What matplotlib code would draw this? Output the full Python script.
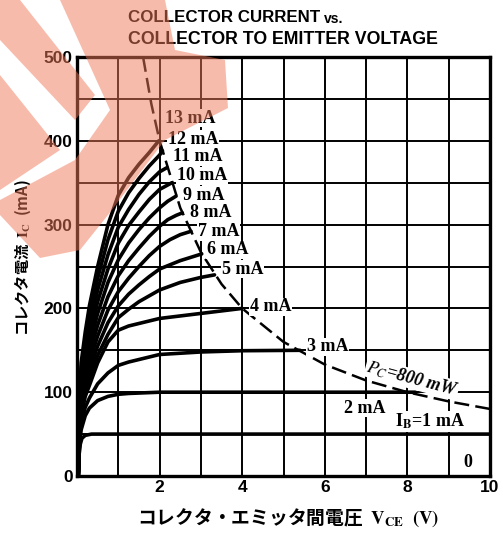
import matplotlib
matplotlib.use('Agg')
import matplotlib.pyplot as plt
from matplotlib.patches import Polygon

plt.rcParams['mathtext.fontset'] = 'stix'

# --- data (V in volts, I in mA) ---
vce_grid = [0.03, 0.06, 0.1, 0.2, 0.3, 0.5, 0.75, 1.0, 1.25, 1.5, 1.75, 2.0]

ib1_v = [0.03, 0.05, 0.08, 0.12, 0.2, 0.35, 10.0]
ib1_i = [0, 25, 38, 45, 48.5, 50, 50]
ib2_v = vce_grid + [8.2]
ib2_i = [0, 38, 55, 72, 81, 90, 95, 97.5, 98.5, 99, 99.5, 100, 100]
ib3_v = vce_grid + [3.0, 4.0, 5.4]
ib3_i = [0, 42, 64, 82, 93, 110, 123, 132, 136, 139, 142, 145, 148, 149.5, 150]
ib4_v = vce_grid + [3.0, 4.0]
ib4_i = [0, 45, 72, 95, 108, 135, 160, 174, 179, 182, 185, 188, 194, 200]
ib5_v = vce_grid + [2.5, 3.0, 3.33]
ib5_i = [0, 48, 79, 102, 116, 144, 169, 189, 199, 208, 215, 222, 231, 237, 240]
ib6_v = vce_grid + [2.5, 3.02]
ib6_i = [0, 52, 86, 110, 126, 155, 183, 203, 217, 228, 238, 247, 257, 265]
ib7_v = vce_grid + [2.25, 2.5, 2.76]
ib7_i = [0, 56, 93, 118, 136, 167, 198, 220, 236, 250, 263, 274, 282, 288, 292]
ib8_v = vce_grid + [2.2, 2.4, 2.55]
ib8_i = [0, 60, 100, 127, 146, 180, 214, 239, 257, 272, 286, 298, 306, 311, 314]
ib9_v = vce_grid + [2.2, 2.4]
ib9_i = [0, 64, 107, 136, 156, 194, 231, 258, 278, 294, 308, 320, 328, 334]
ib10_v = vce_grid + [2.3]
ib10_i = [0, 68, 114, 145, 167, 208, 247, 278, 299, 315, 330, 342, 350]
ib11_v = vce_grid + [2.18]
ib11_i = [0, 72, 121, 154, 178, 222, 264, 297, 318, 336, 351, 363, 368]
ib12_v = vce_grid + [2.07]
ib12_i = [0, 76, 128, 163, 190, 236, 282, 316, 338, 355, 370, 383, 388]
ib13_v = vce_grid[:-1] + [1.98]
ib13_i = [0, 80, 135, 172, 203, 250, 300, 335, 356, 372, 386, 400]

# Pc = 800 mW limit (dashed)
pc_v = [1.6, 1.8, 2.0, 2.5, 3.0, 3.5, 4.0, 5.0, 6.0, 7.0, 8.0, 9.0, 10.0]
pc_i = [500, 444, 400, 320, 267, 229, 200, 160, 133, 114, 100, 89, 80]

# curve labels: text, left edge V, centre I
label_text = ['13 mA', '12 mA', '11 mA', '10 mA', '9 mA', '8 mA', '7 mA',
              '6 mA', '5 mA', '4 mA', '3 mA', '2 mA']
label_v = [2.13, 2.2, 2.32, 2.42, 2.57, 2.74, 2.93, 3.15, 3.51, 4.19, 5.57, 6.47]
label_i = [427, 402, 381, 358, 335, 314, 292, 270, 247, 202, 154, 81]

curves = [(ib1_v, ib1_i), (ib2_v, ib2_i), (ib3_v, ib3_i), (ib4_v, ib4_i),
          (ib5_v, ib5_i), (ib6_v, ib6_i), (ib7_v, ib7_i), (ib8_v, ib8_i),
          (ib9_v, ib9_i), (ib10_v, ib10_i), (ib11_v, ib11_i),
          (ib12_v, ib12_i), (ib13_v, ib13_i)]

W, H = 503, 533
fig = plt.figure(figsize=(W / 100, H / 100), dpi=100)
ax = fig.add_axes([77 / W, 1 - 476 / H, (490 - 77) / W, (476 - 57) / H])

ax.set_xlim(0, 10)
ax.set_ylim(0, 500)
ax.set_xticks(range(0, 11))
ax.set_yticks(range(0, 501, 50))
ax.grid(True, color='black', linewidth=1.4)
ax.set_axisbelow(True)
ax.tick_params(length=0, pad=3)
ax.set_xticklabels(['', '', '2', '', '4', '', '6', '', '8', '', '10'])
ax.set_yticklabels(['0', '', '100', '', '200', '', '300', '', '400', '', '500'])
for t in ax.get_xticklabels() + ax.get_yticklabels():
    t.set_fontfamily('Liberation Sans')
    t.set_fontweight('bold')
    t.set_fontsize(12.5)
for s in ax.spines.values():
    s.set_linewidth(2.4)

for v, i in curves:
    ax.plot(v, i, color='black', linewidth=2.6, solid_joinstyle='round',
            solid_capstyle='round', zorder=3)
ax.plot(pc_v, pc_i, color='black', linewidth=1.8, dashes=(6, 2.5), zorder=3)

lab_style = dict(fontfamily='Liberation Serif', fontweight='bold', fontsize=13,
                 va='center', ha='left', zorder=5,
                 bbox=dict(facecolor='white', edgecolor='none', pad=0.5))
for txt, v, i in zip(label_text, label_v, label_i):
    ax.text(v, i, txt, **lab_style)
ax.text(7.7, 65, r'$\mathbf{I_B}$=1 mA', **lab_style)
ax.text(9.47, 16, '0', fontfamily='Liberation Serif', fontweight='bold',
        fontsize=13, ha='center', va='center', zorder=5)
ax.text(8.11, 116, r'$P_C$=800 mW', fontfamily='Liberation Serif', style='italic',
        fontweight='bold', fontsize=13, ha='center', va='center',
        rotation=-15, rotation_mode='anchor', zorder=5,
        bbox=dict(facecolor='white', edgecolor='none', pad=0.3))

# titles and axis labels
fig.text(128 / W, 1 - 18 / H, 'COLLECTOR CURRENT', fontfamily='Liberation Sans',
         fontweight='bold', fontsize=12.2, va='center', ha='left')
fig.text(324 / W, 1 - 19 / H, 'vs.', fontfamily='Liberation Sans',
         fontweight='bold', fontsize=10, va='center', ha='left')
fig.text(128 / W, 1 - 40 / H, 'COLLECTOR TO EMITTER VOLTAGE', fontfamily='Liberation Sans',
         fontweight='bold', fontsize=12.8, va='center', ha='left')
jp = ['Noto Sans CJK JP', 'DejaVu Sans']
fig.text(23 / W, 1 - 258 / H, r'コレクタ電流  $\mathbf{I_C}$  (mA)', fontfamily=jp,
         fontweight='bold', fontsize=11, rotation=90, va='center', ha='center')
fig.text(288 / W, 1 - 518 / H, r'コレクタ・エミッタ間電圧  $\mathbf{V_{CE}}$  $\mathbf{(V)}$',
         fontfamily=jp, fontweight='bold', fontsize=13.5, va='center', ha='center')

# pink watermark laid over the top-left corner
wm = fig.add_axes([0, 0, 1, 1], zorder=10)
wm.set_xlim(0, W)
wm.set_ylim(H, 0)
wm.axis('off')
wm.patch.set_alpha(0)
pink = (240 / 255, 120 / 255, 90 / 255)
wm_shapes = [
    [(0, 0), (20, 0), (95, 95), (75, 120), (0, 40)],
    [(0, 75), (60, 150), (0, 190)],
    [(60, 0), (165, 0), (175, 50), (225, 60), (228, 108), (165, 140),
     (108, 215), (80, 250), (40, 258), (0, 215), (0, 200), (75, 160), (110, 110)],
]
for pts in wm_shapes:
    wm.add_patch(Polygon(pts, facecolor=pink, edgecolor='none', alpha=0.5))

fig.savefig('out.png', dpi=100)
